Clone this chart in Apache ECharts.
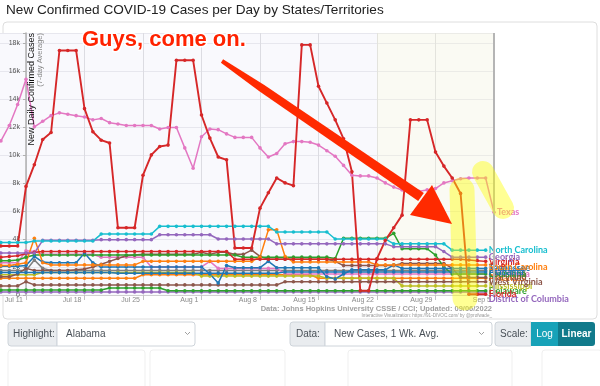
<!DOCTYPE html>
<html>
<head>
<meta charset="utf-8">
<script src="https://cdn.jsdelivr.net/npm/echarts@6.0.0/dist/echarts.min.js"></script>
<style>
html,body{margin:0;padding:0;background:#ffffff;}
#chart{width:600px;height:386px;}
</style>
</head>
<body>
<div id="chart"></div>
<script>
// x = days relative to Jul 11, 2022. Data start Jul 8 (day -3) and run to Sep 4 (Texas: Sep 5).
const tickLabels = ['Jul 11','Jul 18','Jul 25','Aug 1','Aug 8','Aug 15','Aug 22','Aug 29','Sep 5'];
const firstDay = -3;

// New confirmed cases per day, 7-day average, in thousands.
// Rows: Jul 8-10, then one week per row (Jul 11-17, Jul 18-24, ...).
const texas = [11.0,12.1,13.6,
  15.4,12.0,12.4,12.8,13.0,12.9,12.8,
  12.7,12.5,12.6,12.3,12.2,12.1,12.1,
  12.1,12.1,11.85,11.95,11.95,10.5,9.05,
  11.3,11.85,11.8,11.5,11.25,11.25,11.25,
  10.5,9.85,10.1,10.8,10.95,10.95,10.9,
  10.7,10.3,9.9,9.25,8.55,8.5,8.5,
  8.35,8.0,7.7,7.5,7.4,7.4,7.5,
  7.6,8.0,8.15,8.3,8.35,8.35,8.35,
  5.9];
const florida = [3.5,3.5,3.5,
  7.75,9.3,11.1,11.6,17.45,17.45,17.45,
  13.3,11.65,11.05,10.85,4.8,4.8,4.8,
  8.55,10.0,10.6,10.7,16.75,16.75,16.75,
  12.85,11.2,9.85,9.65,3.35,3.35,3.35,
  6.2,7.3,8.35,8.0,7.8,17.85,17.85,
  14.9,13.7,12.5,11.15,8.8,0.3,0.3,
  2.6,3.9,4.8,5.7,12.5,12.5,12.5,
  10.2,9.2,8.35,7.25,0.05,0.05,0.05];
const northCarolina = [3.75,3.75,3.75,
  3.75,3.85,3.85,3.85,3.85,3.85,3.85,
  3.85,3.85,4.35,4.35,4.35,4.35,4.35,
  4.35,4.35,4.9,4.9,4.9,4.9,4.9,
  4.9,4.9,4.9,4.9,4.9,4.9,4.9,
  4.9,4.9,4.5,4.5,4.5,4.5,4.5,
  4.5,4.5,4.0,4.0,4.0,4.0,4.0,
  4.0,4.0,3.65,3.65,3.65,3.65,3.65,
  3.65,3.65,3.2,3.2,3.2,3.2,3.2];
const georgia = [3.0,3.0,3.0,
  3.0,3.0,3.9,3.9,3.9,3.9,3.9,
  3.9,3.9,3.95,3.95,3.95,3.95,3.95,
  3.95,3.95,4.3,4.3,4.3,4.3,4.3,
  4.3,4.3,4.0,4.0,4.0,4.0,4.0,
  4.0,4.0,3.65,3.65,3.65,3.65,3.65,
  3.65,3.65,3.65,3.65,3.65,3.65,3.65,
  3.65,3.65,3.45,3.45,3.45,3.45,3.45,
  3.45,3.1,2.7,2.7,2.7,2.7,2.7];
const virginia = [2.7,2.75,2.8,
  2.95,3.05,3.1,3.1,3.1,3.1,3.1,
  3.1,3.1,3.1,3.1,3.1,3.1,3.1,
  3.1,3.1,3.1,3.1,3.1,3.1,3.1,
  3.1,3.1,3.1,3.1,2.55,2.55,2.55,
  2.55,2.55,2.55,2.55,2.55,2.55,2.55,
  2.55,2.55,2.55,2.55,2.55,2.55,2.55,
  2.55,2.55,2.55,2.55,2.55,2.55,2.55,
  2.55,2.55,2.55,2.55,2.5,2.45,2.4];
const southCarolina = [2.1,2.1,2.2,
  2.3,4.05,2.3,2.15,2.15,2.15,2.15,
  2.15,2.15,2.15,2.15,2.15,2.15,2.15,
  2.4,2.4,2.4,2.4,2.4,2.4,2.4,
  2.4,2.4,2.4,2.4,2.4,2.4,2.4,
  2.7,4.65,4.65,2.75,2.35,2.35,2.35,
  2.35,2.35,2.35,2.35,2.35,2.35,2.35,
  2.15,2.15,2.15,2.15,2.15,2.15,2.15,
  2.15,2.15,2.15,2.15,2.15,2.15,2.15];
const tennessee = [2.05,2.05,2.05,
  2.1,2.75,2.35,2.3,2.3,2.3,2.3,
  3.0,2.3,2.0,2.0,2.0,2.0,2.0,
  2.0,2.0,2.0,2.0,2.0,2.0,2.0,
  2.0,1.5,0.85,2.1,1.95,1.95,1.95,
  1.95,2.4,1.95,1.95,1.95,1.95,1.95,
  1.95,1.3,1.15,1.5,1.8,1.8,1.8,
  1.8,1.8,2.15,1.9,1.9,1.9,1.9,
  1.9,1.9,1.9,1.9,1.9,1.9,1.9];
const alabama = [1.6,1.6,1.6,
  1.6,1.6,1.6,1.6,1.6,1.6,1.6,
  1.6,1.6,1.6,1.6,1.55,1.55,1.55,
  1.55,1.55,1.55,1.55,1.55,1.55,1.55,
  1.55,1.55,1.55,1.55,1.55,1.55,1.55,
  1.55,1.55,1.55,1.65,1.65,1.65,1.65,
  1.65,1.65,1.65,1.65,1.65,1.65,1.65,
  1.65,1.65,1.65,1.65,1.65,1.65,1.65,
  1.65,1.65,1.65,1.65,1.65,1.65,1.65];
const louisiana = [2.45,2.45,2.5,
  2.7,2.85,2.85,2.85,2.85,2.85,2.85,
  2.85,2.85,2.85,2.85,2.85,2.85,2.85,
  2.85,2.85,2.85,2.85,2.85,2.85,2.85,
  2.85,2.85,2.85,2.85,2.85,2.7,2.7,
  2.7,2.7,2.7,2.7,2.7,2.7,2.7,
  2.7,2.7,2.6,4.05,4.05,4.05,4.05,
  4.05,4.05,4.4,3.3,3.3,3.3,3.3,
  2.85,2.0,1.5,1.5,1.5,1.5,1.5];
const maryland = [1.3,1.3,1.5,
  1.9,1.75,1.75,1.75,1.75,1.75,1.8,
  1.85,2.0,2.2,2.4,2.6,2.8,2.85,
  2.9,2.9,2.9,2.9,2.9,2.9,2.9,
  3.05,2.9,3.05,3.05,2.9,2.9,3.2,
  2.75,2.55,2.55,2.55,2.55,2.55,2.55,
  2.55,2.55,2.4,2.1,2.1,2.1,2.1,
  2.1,2.1,2.1,2.25,2.25,2.25,2.25,
  2.25,2.25,1.9,1.25,1.25,1.25,1.25];
const westVirginia = [0.65,0.65,0.65,
  0.95,0.72,0.72,0.72,0.72,0.72,0.72,
  0.72,0.72,0.72,0.72,0.72,0.72,0.72,
  0.72,0.72,0.72,0.72,0.72,0.72,0.72,
  0.72,0.72,0.72,0.72,0.72,0.72,0.72,
  0.72,0.72,0.72,0.95,0.95,0.95,0.95,
  0.95,0.95,0.95,0.95,0.95,0.95,0.95,
  0.95,0.95,0.95,0.95,0.95,0.95,0.95,
  0.95,0.95,0.95,0.95,0.95,0.95,0.95];
const mississippi = [1.45,1.45,1.45,
  1.45,1.45,1.6,1.6,1.6,1.6,1.6,
  1.6,1.6,1.6,1.6,1.6,1.6,1.6,
  1.6,1.6,1.6,1.6,1.6,1.6,1.6,
  1.35,1.35,1.35,1.35,1.35,1.35,1.35,
  1.35,1.35,1.35,1.35,1.35,1.35,1.35,
  1.35,1.2,1.2,1.2,1.2,1.2,1.2,
  1.2,1.2,1.2,0.65,0.65,0.65,0.65,
  0.65,0.65,0.65,0.65,0.65,0.65,0.65];
const kentucky = [1.75,1.75,1.75,
  1.75,2.5,1.9,1.75,1.75,1.75,1.75,
  1.75,1.75,1.75,1.75,1.75,1.75,1.75,
  1.75,1.75,1.75,1.75,1.75,1.75,1.75,
  1.75,1.75,1.75,1.75,1.75,1.75,1.75,
  1.75,1.75,1.75,1.75,1.75,1.75,1.75,
  1.75,1.75,1.75,1.75,1.75,1.75,1.75,
  1.75,1.75,1.75,1.75,1.75,1.75,1.75,
  1.75,1.75,1.75,1.75,1.75,1.75,1.75];
const oklahoma = [2.3,2.3,2.3,
  3.15,3.1,2.9,2.9,2.9,2.9,2.9,
  2.9,2.9,2.7,2.7,2.7,2.7,2.7,
  2.7,2.0,2.0,2.0,2.0,2.0,2.0,
  2.0,2.4,1.9,1.9,1.9,1.9,1.9,
  1.9,1.9,1.9,1.5,1.5,1.5,1.5,
  1.5,1.5,1.5,1.5,1.5,1.5,1.5,
  1.5,1.5,1.5,1.5,1.5,1.5,1.5,
  1.5,1.5,1.5,1.5,1.5,1.5,1.5];
const arkansas = [1.2,1.2,1.2,
  1.2,1.2,1.2,1.2,1.2,1.2,1.2,
  1.2,1.2,1.2,1.2,1.2,1.2,1.2,
  1.45,1.45,1.45,1.45,1.45,1.45,1.45,
  1.45,1.45,1.45,1.45,1.45,1.45,1.45,
  1.45,1.45,1.45,1.45,1.45,1.45,1.45,
  1.2,1.2,1.2,1.2,1.2,1.2,1.2,
  1.2,1.2,1.2,1.2,1.2,1.2,1.2,
  1.2,1.2,1.2,1.2,1.2,1.2,1.2];
const delaware = [0.35,0.35,0.35,
  0.35,0.35,0.35,0.35,0.35,0.35,0.35,
  0.35,0.35,0.35,0.5,0.5,0.5,0.5,
  0.5,0.5,0.5,0.3,0.3,0.3,0.3,
  0.3,0.3,0.3,0.3,0.3,0.3,0.3,
  0.3,0.3,0.3,0.3,0.3,0.3,0.3,
  0.3,0.3,0.3,0.3,0.3,0.3,0.3,
  0.3,0.3,0.3,0.3,0.3,0.3,0.3,
  0.3,0.3,0.3,0.3,0.3,0.3,0.3];
const districtOfColumbia = [0.22,0.22,0.22,
  0.22,0.22,0.22,0.22,0.22,0.22,0.22,
  0.22,0.22,0.22,0.22,0.22,0.22,0.22,
  0.22,0.22,0.22,0.22,0.22,0.22,0.22,
  0.22,0.22,0.22,0.22,0.22,0.22,0.22,
  0.22,0.22,0.22,0.22,0.22,0.22,0.22,
  0.22,0.22,0.22,0.22,0.22,0.22,0.22,
  0.22,0.22,0.22,0.22,0.22,0.22,0.22,
  0.22,0.22,0.22,0.22,0.22,0.22,0.22];

const C = {blue:'#1f77b4', orange:'#ff7f0e', green:'#2ca02c', red:'#d62728', purple:'#9467bd',
  brown:'#8c564b', pink:'#e377c2', gray:'#7f7f7f', olive:'#bcbd22', cyan:'#17becf'};

const defs = [
  {name:'District of Columbia', color:C.purple, values:districtOfColumbia, labelShift:7},
  {name:'Delaware', color:C.green, values:delaware},
  {name:'Arkansas', color:C.orange, values:arkansas},
  {name:'Kentucky', color:C.gray, values:kentucky},
  {name:'Oklahoma', color:C.pink, values:oklahoma},
  {name:'Mississippi', color:C.olive, values:mississippi},
  {name:'West Virginia', color:C.brown, values:westVirginia},
  {name:'Maryland', color:C.brown, values:maryland},
  {name:'Louisiana', color:C.green, values:louisiana},
  {name:'Alabama', color:C.blue, values:alabama},
  {name:'Tennessee', color:C.blue, values:tennessee},
  {name:'South Carolina', color:C.orange, values:southCarolina, labelShift:2},
  {name:'Virginia', color:C.red, values:virginia, labelShift:1},
  {name:'Georgia', color:C.purple, values:georgia},
  {name:'North Carolina', color:C.cyan, values:northCarolina},
  {name:'Texas', color:C.pink, values:texas},
  {name:'Florida', color:C.red, values:florida}
];

const FONT = '"Liberation Sans", Arial, sans-serif';
const LABEL_FONT = 'Lato, "Open Sans", sans-serif';

const series = defs.map((d) => ({
  name: d.name,
  type: 'line',
  data: d.values.map((v, i) => [firstDay + i, v]),
  symbol: 'circle',
  symbolSize: 3.6,
  lineStyle: {width: d.name === 'Florida' ? 1.9 : 1.5, color: d.color},
  itemStyle: {color: d.color},
  animation: false,
  silent: true,
  z: 3,
  endLabel: {show: true, formatter: '{a}', color: d.color, fontWeight: 'bold',
    fontSize: 9, fontFamily: LABEL_FONT, distance: 3, offset: [0, d.labelShift || 0]},
  emphasis: {disabled: true}
}));

// recent-data shading and right border of the plot
series[0].markArea = {silent: true, itemStyle: {color: 'rgba(255,255,205,0.2)'},
  data: [[{xAxis: 42}, {xAxis: 56}]]};
series[0].markLine = {silent: true, symbol: 'none', label: {show: false},
  lineStyle: {color: '#b5b5b5', width: 2, type: 'solid'}, data: [{xAxis: 56}]};

// arrow geometry (annotation drawn over the chart)
const arrowShaft = [[223.1,59.3],[264.3,85.0],[423.8,192.9],[418.2,201.1],[259.7,91.6],[220.9,62.7]];
const arrowHead = [[410,215],[432,185],[452,224]];

const graphics = [
  {type:'text', x:6, y:10, style:{text:'New Confirmed COVID-19 Cases per Day by States/Territories',
    font:'13.6px ' + FONT, fill:'#222', verticalAlign:'middle'}},
  {type:'rect', z:-10, shape:{x:3, y:22, width:594, height:297, r:4},
    style:{fill:'none', stroke:'#dedede', lineWidth:1}},
  {type:'text', x:32, y:33, rotation:Math.PI/2, z:10,
    style:{text:'New Daily Confirmed Cases', font:'9px ' + FONT, fill:'#111', align:'right', verticalAlign:'middle'}},
  {type:'text', x:40, y:33, rotation:Math.PI/2, z:10,
    style:{text:'(7-day Average)', font:'7.5px ' + FONT, fill:'#888', align:'right', verticalAlign:'middle'}},
  {type:'text', x:492, y:309, style:{text:'Data: Johns Hopkins University CSSE / CCI; Updated: 09/06/2022',
    font:'bold 7.5px ' + FONT, fill:'#a0a0a0', align:'right', verticalAlign:'middle'}},
  {type:'text', x:492, y:315.5, style:{text:'Interactive Visualization: https://91-DIVOC.com/ by @profwade_',
    font:'4.6px ' + FONT, fill:'#999', align:'right', verticalAlign:'middle'}},
  {type:'rect', shape:{x:8, y:322, width:49, height:24, r:[3,0,0,3]}, style:{fill:'#e9ecef', stroke:'#ced4da'}},
  {type:'text', x:13, y:334, style:{text:'Highlight:', font:'10px ' + FONT, fill:'#495057', verticalAlign:'middle'}},
  {type:'rect', shape:{x:57, y:322, width:138, height:24, r:[0,3,3,0]}, style:{fill:'#fff', stroke:'#ced4da'}},
  {type:'text', x:66, y:334, style:{text:'Alabama', font:'10px ' + FONT, fill:'#495057', verticalAlign:'middle'}},
  {type:'polyline', shape:{points:[[185,332],[187.5,334.5],[190,332]]}, style:{stroke:'#888', lineWidth:0.8, fill:'none'}},
  {type:'rect', shape:{x:290, y:322, width:35, height:24, r:[3,0,0,3]}, style:{fill:'#e9ecef', stroke:'#ced4da'}},
  {type:'text', x:296, y:334, style:{text:'Data:', font:'10px ' + FONT, fill:'#495057', verticalAlign:'middle'}},
  {type:'rect', shape:{x:325, y:322, width:167, height:24, r:[0,3,3,0]}, style:{fill:'#fff', stroke:'#ced4da'}},
  {type:'text', x:334, y:334, style:{text:'New Cases, 1 Wk. Avg.', font:'10px ' + FONT, fill:'#495057', verticalAlign:'middle'}},
  {type:'polyline', shape:{points:[[479,332],[481.5,334.5],[484,332]]}, style:{stroke:'#888', lineWidth:0.8, fill:'none'}},
  {type:'rect', shape:{x:495, y:322, width:36, height:24, r:[3,0,0,3]}, style:{fill:'#e9ecef', stroke:'#ced4da'}},
  {type:'text', x:500, y:334, style:{text:'Scale:', font:'10px ' + FONT, fill:'#495057', verticalAlign:'middle'}},
  {type:'rect', shape:{x:531, y:322, width:27, height:24}, style:{fill:'#17a2b8'}},
  {type:'text', x:544.5, y:334, style:{text:'Log', font:'10px ' + FONT, fill:'#fff', align:'center', verticalAlign:'middle'}},
  {type:'rect', shape:{x:558, y:322, width:37, height:24, r:[0,3,3,0]}, style:{fill:'#117a8b'}},
  {type:'text', x:576.5, y:334, style:{text:'Linear', font:'bold 10px ' + FONT, fill:'#fff', align:'center', verticalAlign:'middle'}},
  {type:'rect', shape:{x:8, y:350, width:137, height:45, r:3}, style:{fill:'none', stroke:'#efefef'}},
  {type:'rect', shape:{x:150, y:350, width:135, height:45, r:3}, style:{fill:'none', stroke:'#efefef'}},
  {type:'rect', shape:{x:348, y:350, width:164, height:45, r:3}, style:{fill:'none', stroke:'#efefef'}},
  {type:'rect', shape:{x:542, y:350, width:60, height:45, r:3}, style:{fill:'none', stroke:'#efefef'}},
  // annotations
  {type:'polyline', z:100, shape:{points:[[462,190],[465,298]]},
    style:{stroke:'rgba(255,255,0,0.42)', lineWidth:25, lineCap:'round', fill:'none'}},
  {type:'polyline', z:100, shape:{points:[[483,172],[503,208]]},
    style:{stroke:'rgba(255,255,0,0.42)', lineWidth:22, lineCap:'round', fill:'none'}},
  {type:'polygon', z:101, shape:{points:arrowShaft}, style:{fill:'#ff2a00'}},
  {type:'polygon', z:101, shape:{points:arrowHead}, style:{fill:'#ff2a00'}},
  {type:'text', x:82, y:40, z:102, style:{text:'Guys, come on.', font:'bold 22px ' + FONT,
    fill:'#ff2200', stroke:'#ffffff', lineWidth:3, strokeFirst:true, verticalAlign:'middle',
    shadowBlur:3, shadowColor:'rgba(0,0,0,0.35)', shadowOffsetX:1, shadowOffsetY:1}}
];

const chart = echarts.init(document.getElementById('chart'), null, {renderer:'canvas'});
chart.setOption({
  animation: false,
  backgroundColor: '#ffffff',
  grid: {left: -32.5, right: 106, top: 33, bottom: 91, show: true, backgroundColor: '#f9f9fd',
    borderWidth: 0, containLabel: false, outerBoundsMode: 'none'},
  xAxis: {
    type: 'value', min: -7, max: 56, interval: 7,
    axisLine: {show: true, onZero: false, lineStyle: {color: '#d0d0d0'}},
    axisTick: {show: true, length: 5, lineStyle: {color: '#c4c4c4'}},
    axisLabel: {formatter: v => (v >= 0 ? tickLabels[Math.round(v / 7)] : ''), align: 'right',
      padding: [0, 3, 0, 0], fontSize: 7, color: '#8a8a8a', margin: 2, fontFamily: FONT},
    splitLine: {show: true, lineStyle: {color: '#dcdce2', width: 1}}
  },
  yAxis: {
    type: 'value', min: 0, max: 18.7, interval: 2, position: 'left', offset: -58.5,
    axisLine: {show: true, onZero: false, lineStyle: {color: '#b0b0b0', width: 1.5}},
    axisTick: {show: true, length: 3, lineStyle: {color: '#b0b0b0'}},
    axisLabel: {show: true, formatter: v => (v === 0 ? '0' : (v <= 18 ? v + 'k' : '')), fontSize: 7, color: '#555',
      margin: 6, fontFamily: FONT},
    splitLine: {show: true, lineStyle: {color: '#e7e7ee', width: 1}}
  },
  series: series,
  graphic: graphics
});
</script>
</body>
</html>
